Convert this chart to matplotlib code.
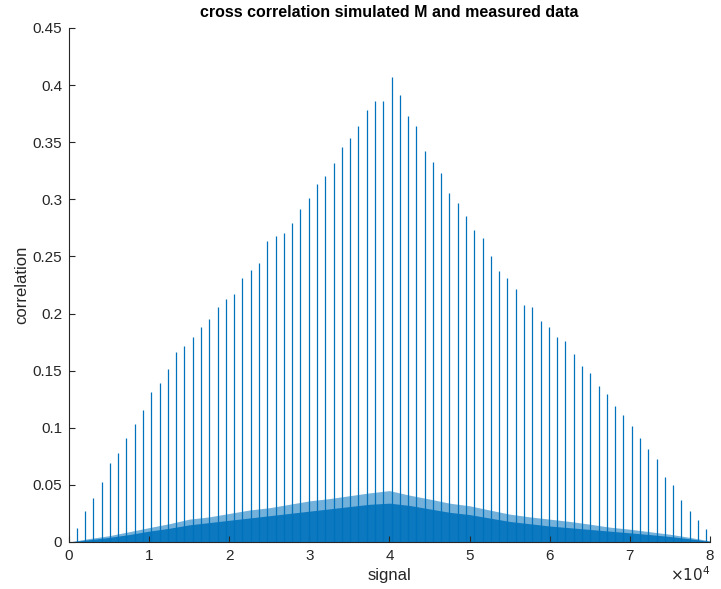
import numpy as np
import matplotlib
matplotlib.use("Agg")
import matplotlib.pyplot as plt

plt.rcParams['font.family'] = ['Liberation Sans', 'DejaVu Sans']

# peak heights of the 77 correlation spikes, left to right
spike_heights = [
    0.0126, 0.027, 0.0388, 0.0529, 0.0688, 0.0776, 0.0911, 0.1032, 0.1155, 0.1314,
    0.139, 0.1517, 0.1667, 0.172, 0.1799, 0.1884, 0.1952, 0.2055, 0.2131, 0.2175,
    0.2307, 0.2381, 0.2446, 0.2634, 0.2678, 0.2704, 0.279, 0.2919, 0.301, 0.3136,
    0.3204, 0.3322, 0.3457, 0.3533, 0.3642, 0.3786, 0.3865, 0.3865, 0.4074, 0.3909,
    0.373, 0.3642, 0.3427, 0.3325, 0.323, 0.3051, 0.2972, 0.2857, 0.2734, 0.266,
    0.2501, 0.2372, 0.2307, 0.2213, 0.2072, 0.2061, 0.1931, 0.1884, 0.1799, 0.1758,
    0.1646, 0.1543, 0.1478, 0.1364, 0.1299, 0.119, 0.1108, 0.1014, 0.0911, 0.0817,
    0.0726, 0.0567, 0.05, 0.037, 0.0273, 0.0194, 0.0112,
]
spike_start = 960
spike_period = 1034

# noise floor envelope (outer, light) and dense core
noise_x = [0, 2500, 5000, 7500, 10000, 12500, 15000, 17500, 20000, 22500, 25000,
           27500, 30000, 32500, 35000, 37500, 40000, 42500, 45000, 47500, 50000,
           52500, 55000, 57500, 60000, 62500, 65000, 67500, 70000, 72500, 75000,
           77500, 80000]
noise_upper = [0.0, 0.003, 0.0055, 0.009, 0.0126, 0.016, 0.020, 0.022, 0.025, 0.028, 0.030,
               0.033, 0.036, 0.038, 0.0405, 0.043, 0.045, 0.041, 0.0376, 0.034, 0.0317,
               0.028, 0.0244, 0.022, 0.020, 0.018, 0.0156, 0.013, 0.0112, 0.009, 0.0068,
               0.004, 0.001]
noise_core = [0.0, 0.002, 0.004, 0.0065, 0.0095, 0.012, 0.015, 0.017, 0.019, 0.021, 0.023,
              0.025, 0.027, 0.029, 0.031, 0.033, 0.034, 0.032, 0.029, 0.026, 0.024,
              0.021, 0.018, 0.016, 0.014, 0.0125, 0.011, 0.0095, 0.008, 0.0065, 0.0048,
              0.0028, 0.0005]

xticks = [0, 10000, 20000, 30000, 40000, 50000, 60000, 70000, 80000]
xtick_labels = ['0', '1', '2', '3', '4', '5', '6', '7', '8']
yticks = [0, 0.05, 0.1, 0.15, 0.2, 0.25, 0.3, 0.35, 0.4, 0.45]
ytick_labels = ['0', '0.05', '0.1', '0.15', '0.2', '0.25', '0.3', '0.35', '0.4', '0.45']

blue = '#0072BD'
axcol = '#262626'

fig = plt.figure(figsize=(7.21, 5.89), dpi=100)
ax = fig.add_axes([0.0957, 0.0798, 0.889, 0.8727])

ax.fill_between(noise_x, 0, noise_upper, color=blue, alpha=0.55, lw=0)
ax.fill_between(noise_x, 0, noise_core, color=blue, alpha=0.9, lw=0)

spike_x = spike_start + spike_period * np.arange(len(spike_heights))
ax.vlines(spike_x, 0, spike_heights, color=blue, lw=0.9)

ax.set_xlim(0, 80000)
ax.set_ylim(0, 0.45)
ax.set_xticks(xticks)
ax.set_xticklabels(xtick_labels)
ax.set_yticks(yticks)
ax.set_yticklabels(ytick_labels)

for s in ['top', 'right']:
    ax.spines[s].set_visible(False)
for s in ['left', 'bottom']:
    ax.spines[s].set_color(axcol)
    ax.spines[s].set_linewidth(0.8)
ax.tick_params(direction='in', length=4, width=0.8, colors=axcol, labelsize=11, pad=5)

ax.text(1.0, -0.045, r'$\times10^{4}$', transform=ax.transAxes, ha='right', va='top',
        fontsize=11, color=axcol)

ax.set_xlabel('signal', fontsize=12, color=axcol, labelpad=4)
ax.set_ylabel('correlation', fontsize=12, color=axcol, labelpad=2)
ax.set_title('cross correlation simulated M and measured data', fontsize=11.5,
             fontweight='bold', color='black', pad=8)

fig.savefig('out.png', dpi=100)
